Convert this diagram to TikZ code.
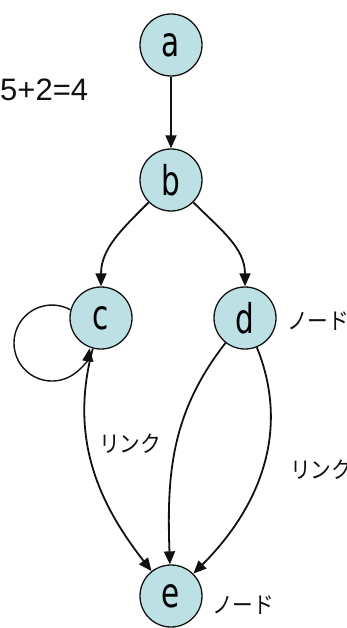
\documentclass[tikz,border=0pt]{standalone}
\usepackage{fontspec}
\setmainfont{Liberation Sans}
\newfontfamily\letterfont[FakeStretch=0.72]{DejaVu Sans}
\newfontfamily\jpfont[FakeStretch=0.9]{Noto Sans CJK JP}
\usetikzlibrary{arrows.meta, positioning}
\definecolor{ink}     {HTML}{111111}
\definecolor{nodefill}{HTML}{BDE0E4}
\tikzset{
  vert/.style  = {circle, draw=ink, line width=1.3pt, fill=nodefill,
                  minimum size=62pt, inner sep=0pt,
                  font=\letterfont\fontsize{41}{41}\selectfont},
  arr/.style   = {-{Triangle[length=13pt,width=11pt]}, line width=1.8pt, ink},
  jlab/.style  = {font=\jpfont\fontsize{23}{23}\selectfont, text=ink, inner sep=0pt},
  eqn/.style   = {font=\fontsize{31}{31}\selectfont, text=ink, inner sep=0pt},
}

\begin{document}
\begin{tikzpicture}[x=1pt, y=-1pt]
  \useasboundingbox (0,0) rectangle (347,628);

  % vertices
  \node[vert] (a) at (171,45)  {a};
  \node[vert] (b) at (171,180) {b};
  \node[vert] (c) at (101,318) {c};
  \node[vert] (d) at (245,318) {d};
  \node[vert] (e) at (171,596) {e};

  % texts
  \node[eqn, anchor=west] (sum) at (0,90) {5+2=4};
  \node[jlab, anchor=west] (dlab) at (287,321) {ノード};
  \node[jlab, anchor=west] (elab) at (212,605) {ノード};
  \node[jlab, anchor=west] (link1) at (99,444) {リンク};
  \node[jlab, anchor=west] (link2) at (290,470) {リンク};

  % links
  \draw[arr] (a) -- (b);
  \draw[arr] (b) to[out=225, in=90] (c);
  \draw[arr] (b) to[out=-45, in=90] (d);
  \draw[arr, line width=1.4pt] (c.165) arc[start angle=61, end angle=352, radius=38pt];
  \draw[arr] (c) to[out=255, in=128] (e);
  \draw[arr] (d) to[out=232, in=92] (e);
  \draw[arr] (d) to[out=-68, in=45] (e);

\end{tikzpicture}
\end{document}
